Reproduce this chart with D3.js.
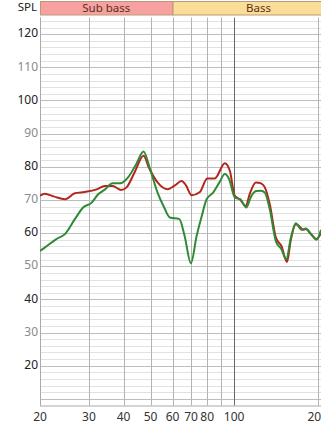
<!DOCTYPE html>
<html>
<head>
  <meta charset="UTF-8" />
  <script src="https://d3js.org/d3.v7.min.js"></script>
  <style>
    body { margin: 0; background: #fff; }
    text { font-family: "Noto Sans", sans-serif; }
  </style>
</head>
<body>
  <div id="chart"></div>
  <script>
    // frequency bands on top
    const bandNames = ["Sub bass", "Bass"];
    const bandEdges = [20, 60, 250];
    const bandColors = ["#f7a1a1", "#fadd96"];

    // ticks
    const xTicks = [20, 30, 40, 50, 60, 70, 80, 100, 200];
    const xGrid = [20, 30, 40, 50, 60, 70, 80, 90, 100, 200];
    const yTicks = [20, 30, 40, 50, 60, 70, 80, 90, 100, 110, 120];

    // red curve
    const redFreq = [20, 20.8, 22.5, 24.6, 26.7, 29, 32, 34.2, 36.5, 39.2, 41, 43.8, 47.2, 49.3, 53, 57.7, 61, 64.7, 67,
      70.3, 75.3, 80, 85.2, 92.6, 96.5, 100.6, 104.8, 110, 114, 119.7, 125, 129, 134.4, 141.3, 148, 155, 160, 166.7,
      172, 177, 181, 190, 197.8, 205.5];
    const redSpl = [71.3, 71.9, 71.0, 70.2, 72.0, 72.4, 73.2, 74.2, 74.2, 73.0, 73.8, 78.3, 83.3, 79.8, 75.3, 73.2, 74.3, 75.7, 74.5,
      71.4, 72.4, 76.5, 76.5, 81.1, 78.8, 71.2, 70.2, 68.2, 72.0, 75.3, 75.0, 73.8, 68.7, 58.7, 56.1, 51.3, 58.0, 62.7,
      62.0, 61.0, 61.2, 59.5, 58.2, 60.0];

    // green curve
    const greenFreq = [20, 20.8, 22.9, 24.6, 26.7, 28.6, 30.7, 32.4, 34.3, 36.5, 38.9, 41.5, 44.4, 47.2, 49.6, 53, 56, 58.7,
      63.5, 66.3, 69.9, 73.3, 76.5, 79.6, 84, 88.5, 92.6, 95.9, 100.6, 105.4, 110.6, 115, 120, 125, 129, 134.4, 141.3,
      148, 154, 160, 166.7, 175, 181, 190, 197.8, 205.5];
    const greenSpl = [54.6, 55.6, 58.2, 59.7, 64.2, 67.7, 69.2, 71.7, 73.2, 75.0, 75.0, 76.8, 80.8, 84.6, 79.8, 72.2, 67.7, 64.7,
      64.2, 59.2, 50.9, 59.2, 65.2, 70.2, 72.2, 75.3, 77.8, 76.3, 70.7, 70.2, 67.7, 71.0, 72.7, 72.8, 72.2, 67.2, 57.6,
      55.1, 52.1, 58.5, 63.0, 61.0, 61.4, 59.5, 58.0, 61.0];

    const width = 321, height = 431;
    const plotL = 40, plotR = 321, plotT = 17.6, plotB = 405.5;

    const svg = d3.select("#chart")
      .append("svg")
      .attr("width", width)
      .attr("height", height);

    const xScale = d3.scaleLog()
      .domain([20, 205.5])
      .range([plotL, plotR]);
    const yScale = d3.scaleLinear()
      .domain([8, 125])
      .range([plotB, plotT]);

    // band header
    const bands = bandNames.map((n, i) => ({ name: n, f0: bandEdges[i], f1: bandEdges[i + 1], color: bandColors[i] }));
    svg.selectAll(".band")
      .data(bands)
      .enter()
      .append("rect")
      .attr("x", d => xScale(d.f0) + 0.5)
      .attr("y", 1.5)
      .attr("width", d => xScale(d.f1) - xScale(d.f0))
      .attr("height", 13.5)
      .attr("fill", d => d.color)
      .attr("stroke", "#b89a7a")
      .attr("stroke-width", 1);
    svg.selectAll(".band-label")
      .data(bands)
      .enter()
      .append("text")
      .attr("x", d => (xScale(d.f0) + xScale(d.f1)) / 2)
      .attr("y", 8.5)
      .attr("text-anchor", "middle")
      .attr("dominant-baseline", "middle")
      .style("font-size", "11.5px")
      .attr("fill", "#5a3020")
      .text(d => d.name);

    svg.append("text")
      .attr("x", 37)
      .attr("y", 8)
      .attr("text-anchor", "end")
      .attr("dominant-baseline", "middle")
      .style("font-size", "11.5px")
      .attr("fill", "#222")
      .text("SPL");

    // horizontal grid every 2 dB
    const hLines = d3.range(10, 125, 2);
    svg.append("g")
      .selectAll("line")
      .data(hLines)
      .enter()
      .append("line")
      .attr("x1", plotL)
      .attr("x2", plotR)
      .attr("y1", d => Math.round(yScale(d)) + 0.5)
      .attr("y2", d => Math.round(yScale(d)) + 0.5)
      .attr("stroke", d => d % 10 === 0 ? "#bdbdbd" : "#e2e2e2")
      .attr("stroke-width", 1);

    // vertical grid
    svg.append("g")
      .selectAll("line")
      .data(xGrid)
      .enter()
      .append("line")
      .attr("x1", d => Math.round(xScale(d)) + 0.5)
      .attr("x2", d => Math.round(xScale(d)) + 0.5)
      .attr("y1", plotT)
      .attr("y2", plotB)
      .attr("stroke", d => d === 100 ? "#666" : "#b4b4b4")
      .attr("stroke-width", 1);

    // frame
    svg.append("line")
      .attr("x1", plotL + 0.5).attr("x2", plotL + 0.5)
      .attr("y1", plotT).attr("y2", plotB)
      .attr("stroke", "#aaa");
    svg.append("line")
      .attr("x1", plotL).attr("x2", plotR)
      .attr("y1", plotB + 0.5).attr("y2", plotB + 0.5)
      .attr("stroke", "#aaa");

    // y labels
    svg.append("g")
      .selectAll("text")
      .data(yTicks)
      .enter()
      .append("text")
      .attr("x", 38)
      .attr("y", d => yScale(d))
      .attr("text-anchor", "end")
      .attr("dominant-baseline", "middle")
      .style("font-size", "12px")
      .attr("fill", d => d % 20 === 0 ? "#222" : "#8a8a8a")
      .text(d => d);

    // x labels
    svg.append("g")
      .selectAll("text")
      .data(xTicks)
      .enter()
      .append("text")
      .attr("x", d => xScale(d))
      .attr("y", 418)
      .attr("text-anchor", "middle")
      .attr("dominant-baseline", "middle")
      .style("font-size", "12px")
      .attr("fill", "#333")
      .text(d => d);

    // curves
    const line = d3.line()
      .x(d => xScale(d[0]))
      .y(d => yScale(d[1]))
      .curve(d3.curveMonotoneX);

    svg.append("clipPath").attr("id", "plot-clip")
      .append("rect")
      .attr("x", plotL).attr("y", plotT)
      .attr("width", plotR - plotL).attr("height", plotB - plotT);

    const series = [
      { freq: redFreq, spl: redSpl, color: "#b3261e" },
      { freq: greenFreq, spl: greenSpl, color: "#2f8a35" }
    ];
    series.forEach(s => {
      svg.append("path")
        .datum(s.freq.map((f, i) => [f, s.spl[i]]))
        .attr("clip-path", "url(#plot-clip)")
        .attr("fill", "none")
        .attr("stroke", s.color)
        .attr("stroke-width", 2)
        .attr("stroke-linejoin", "round")
        .attr("d", line);
    });
  </script>
</body>
</html>
